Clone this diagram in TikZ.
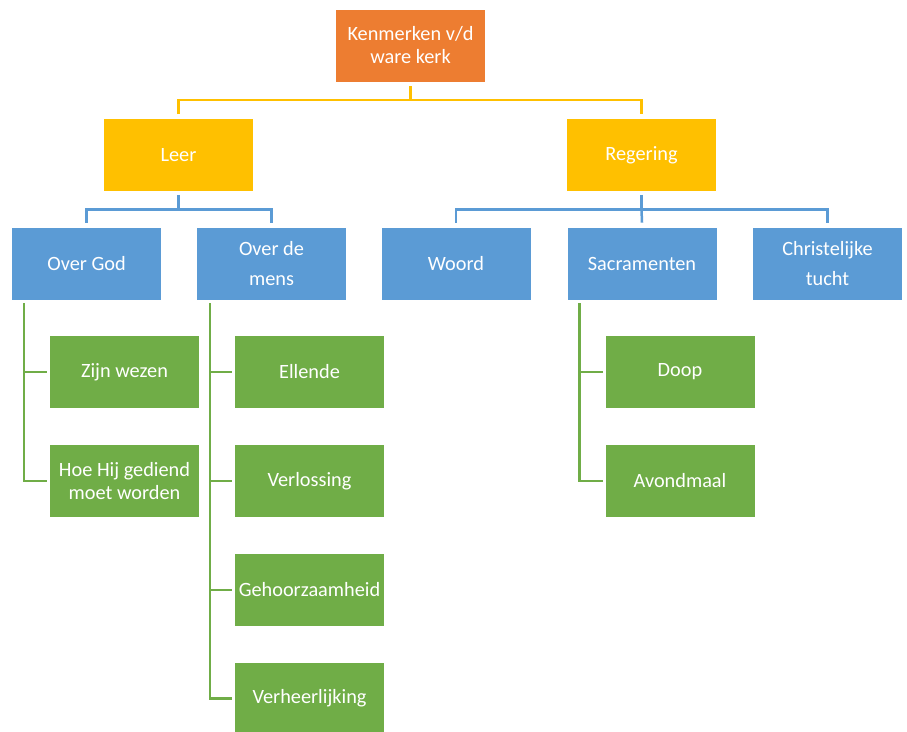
\documentclass[tikz,border=0pt]{standalone}
\usepackage{fontspec}
\setmainfont{Carlito}
\usetikzlibrary{calc}
\definecolor{corange}{HTML}{ED7D31}
\definecolor{cgold}{HTML}{FFC000}
\definecolor{cblue}{HTML}{5B9BD5}
\definecolor{cgreen}{HTML}{70AD47}
\tikzset{
  box/.style={rectangle, minimum width=150pt, minimum height=73pt, inner sep=0pt,
    text=white, align=center, font=\fontsize{20.3}{23}\selectfont, draw=white, line width=0.6pt},
  widebox/.style={box, font=\fontsize{20.3}{30}\selectfont},
  obox/.style={box, fill=corange},
  ybox/.style={box, fill=cgold},
  bbox/.style={box, fill=cblue},
  bwbox/.style={widebox, fill=cblue},
  gbox/.style={box, fill=cgreen},
  yline/.style={draw=cgold, line width=2.5pt},
  bline/.style={draw=cblue, line width=2.5pt},
  gline/.style={draw=cgreen, line width=2.5pt},
}
\begin{document}
\begin{tikzpicture}[x=1pt,y=-1pt]
\useasboundingbox (0,0) rectangle (907,731);
% level 0
\node[obox] (root) at (410.5,45.5) {Kenmerken v/d\\ware kerk};
% level 1
\node[ybox] (leer) at (178.5,155) {Leer};
\node[ybox] (reg) at (641.5,155) {Regering};
% level 2
\node[bbox] (god) at (86.5,263.5) {Over God};
\node[bwbox] (mens) at (271.5,263.5) {Over de\\mens};
\node[bbox] (woord) at (456,263.5) {Woord};
\node[bbox] (sacr) at (642,263.5) {Sacramenten};
\node[bwbox] (tucht) at (827.5,263.5) {Christelijke\\tucht};
% level 3
\node[gbox] (wezen) at (124.5,372) {Zijn wezen};
\node[gbox] (gediend) at (124.5,481) {Hoe Hij gediend\\moet worden};
\node[gbox] (ellende) at (309.5,372) {Ellende};
\node[gbox] (verlossing) at (309.5,481) {Verlossing};
\node[gbox] (gehoor) at (309.5,590) {Gehoorzaamheid};
\node[gbox] (verheer) at (309.5,698.5) {Verheerlijking};
\node[gbox] (doop) at (680,372) {Doop};
\node[gbox] (avond) at (680,481) {Avondmaal};
% root connectors
\coordinate (bus0) at (410.5,100);
\draw[yline] ($(root.south)+(0,4)$) -- (bus0);
\draw[yline] ($(leer.north)+(0,-4)$) -- (leer |- bus0) -- (reg |- bus0) -- ($(reg.north)+(0,-4)$);
% Leer connectors
\coordinate (bus1) at (178.5,209.5);
\draw[bline] ($(leer.south)+(0,3)$) -- (bus1);
\draw[bline] ($(god.north)+(0,-4)$) -- (god |- bus1) -- (mens |- bus1) -- ($(mens.north)+(0,-4)$);
% Regering connectors
\coordinate (bus2) at (641.5,209.5);
\draw[bline] ($(reg.south)+(0,3)$) -- (bus2);
\draw[bline] ($(woord.north)+(0,-4)$) -- (woord |- bus2) -- (tucht |- bus2) -- ($(tucht.north)+(0,-4)$);
\draw[bline] (bus2) -- ($(sacr.north)+(0,-4)$);
% green connectors
\coordinate (g1) at ($(god.south west)+(13,3)$);
\draw[gline] (g1) |- ($(gediend.west)+(-2,0)$);
\draw[gline] (g1 |- wezen.west) -- ($(wezen.west)+(-2,0)$);
\coordinate (g2) at ($(mens.south west)+(14,3)$);
\draw[gline] (g2) |- ($(verheer.west)+(-2,0)$);
\draw[gline] (g2 |- ellende.west) -- ($(ellende.west)+(-2,0)$);
\draw[gline] (g2 |- verlossing.west) -- ($(verlossing.west)+(-2,0)$);
\draw[gline] (g2 |- gehoor.west) -- ($(gehoor.west)+(-2,0)$);
\coordinate (g3) at ($(sacr.south west)+(13,3)$);
\draw[gline] (g3) |- ($(avond.west)+(-2,0)$);
\draw[gline] (g3 |- doop.west) -- ($(doop.west)+(-2,0)$);
\end{tikzpicture}
\end{document}
